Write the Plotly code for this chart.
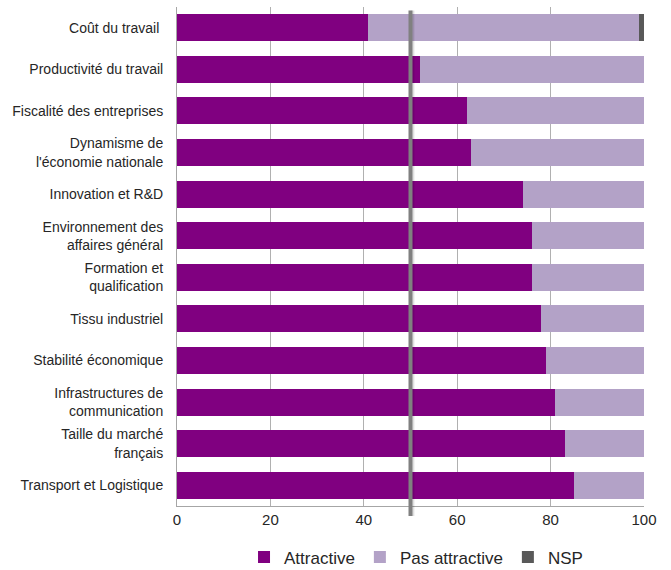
import plotly.graph_objects as go

categories = [
    "Coût du travail ",
    "Productivité du travail",
    "Fiscalité des entreprises",
    "Dynamisme de<br>l'économie nationale",
    "Innovation et R&D",
    "Environnement des<br>affaires général",
    "Formation et<br>qualification",
    "Tissu industriel",
    "Stabilité économique",
    "Infrastructures de<br>communication",
    "Taille du marché<br>français",
    "Transport et Logistique",
]
attractive = [41, 52, 62, 63, 74, 76, 76, 78, 79, 81, 83, 85]
pas_attractive = [58, 48, 38, 37, 26, 24, 24, 22, 21, 19, 17, 15]
nsp = [1, 0, 0, 0, 0, 0, 0, 0, 0, 0, 0, 0]
tick_vals = [0, 20, 40, 60, 80, 100]
threshold = 50

font_family = "Liberation Sans Narrow, Liberation Sans, Arial"

fig = go.Figure()
fig.add_trace(go.Bar(y=categories, x=attractive, name="Attractive", orientation="h",
                     marker=dict(color="#800080", line=dict(width=0))))
fig.add_trace(go.Bar(y=categories, x=pas_attractive, name="Pas attractive", orientation="h",
                     marker=dict(color="#B3A2C7", line=dict(width=0))))
fig.add_trace(go.Bar(y=categories, x=nsp, name="NSP", orientation="h",
                     marker=dict(color="#595959", line=dict(width=0))))

# threshold line with soft shadow
fig.add_shape(type="line", xref="x", yref="paper", x0=threshold + 0.4, x1=threshold + 0.4,
              y0=-0.02, y1=0.993, line=dict(color="rgba(0,0,0,0.12)", width=4), layer="above")
fig.add_shape(type="line", xref="x", yref="paper", x0=threshold, x1=threshold,
              y0=-0.02, y1=0.993, line=dict(color="#808080", width=4), layer="above")

fig.update_layout(
    barmode="stack",
    bargap=0.35,
    width=671, height=570,
    margin=dict(l=177, r=27, t=7, b=64),
    plot_bgcolor="white", paper_bgcolor="white",
    font=dict(family=font_family, size=14, color="#262626"),
    showlegend=True,
    legend=dict(orientation="h", x=0.62, xanchor="center", xref="container",
                y=0.022, yanchor="middle", yref="container",
                font=dict(size=17, color="#262626"), traceorder="normal",
                itemwidth=30, tracegroupgap=0),
    xaxis=dict(range=[0, 100], tickvals=tick_vals, showgrid=True, gridcolor="#B0B0B0",
               gridwidth=1, showline=True, linecolor="#A6A6A6", linewidth=1,
               ticks="", zeroline=False, tickfont=dict(size=15), mirror=False),
    yaxis=dict(categoryorder="array", categoryarray=categories, autorange="reversed",
               showline=True, linecolor="#A6A6A6", linewidth=1, ticks="",
               ticklabelstandoff=10, tickfont=dict(size=14)),
)

fig.write_html("out.html")
